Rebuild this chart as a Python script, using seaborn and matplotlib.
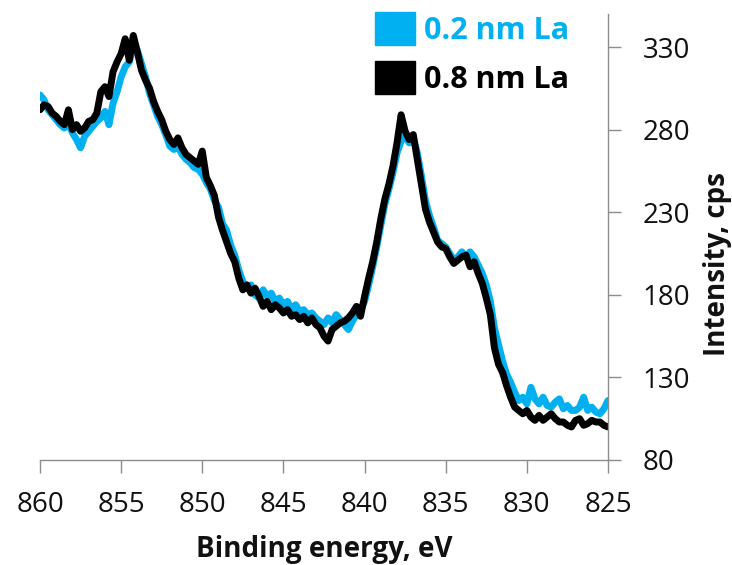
import numpy as np
import pandas as pd
import matplotlib
matplotlib.use("Agg")
import matplotlib.pyplot as plt
from matplotlib.patches import Patch
import seaborn as sns

# Binding energy grid (eV), 0.25 eV steps from 860 down to 825
energy = np.arange(860.0, 824.99, -0.25)

series_names = ["0.2 nm La", "0.8 nm La"]
series_colors = ["#00B0F0", "#000000"]

intensity_02 = [
    301, 298, 292, 289, 286, 283, 281, 284, 278, 274,
    269, 276, 279, 282, 285, 287, 291, 283, 296, 303,
    312, 318, 321, 330, 328, 320, 312, 302, 295, 288,
    283, 277, 270, 268, 270, 265, 262, 260, 257, 256,
    253, 248, 244, 237, 233, 223, 219, 210, 204, 195,
    188, 184, 186, 180, 178, 183, 179, 181, 176, 178,
    174, 176, 171, 174, 170, 171, 168, 169, 166, 164,
    162, 166, 163, 168, 165, 162, 159, 164, 168, 171,
    176, 186, 197, 209, 222, 235, 244, 254, 266, 273,
    276, 272, 275, 266, 252, 237, 228, 221, 213, 211,
    209, 205, 201, 203, 206, 203, 206, 203, 198, 193,
    186, 176, 160, 150, 140, 132, 127, 121, 116, 118,
    114, 124, 117, 114, 118, 113, 112, 115, 117, 111,
    113, 110, 110, 112, 118, 110, 112, 109, 108, 111,
    116,
]

intensity_08 = [
    292, 295, 294, 290, 288, 285, 283, 292, 280, 283,
    279, 281, 285, 286, 290, 303, 306, 300, 315, 321,
    326, 335, 322, 337, 327, 316, 310, 305, 297, 291,
    286, 279, 274, 271, 275, 269, 265, 263, 261, 259,
    267, 251, 246, 240, 227, 219, 212, 205, 200, 190,
    183, 186, 181, 184, 179, 173, 176, 171, 174, 172,
    169, 171, 167, 168, 165, 167, 163, 166, 162, 160,
    155, 152, 159, 161, 163, 164, 166, 169, 173, 167,
    179, 190, 200, 212, 226, 238, 247, 258, 272, 289,
    279, 274, 277, 262, 247, 232, 224, 218, 212, 209,
    208, 203, 199, 201, 203, 204, 197, 200, 193, 187,
    178, 168, 148, 138, 133, 125, 118, 112, 110, 108,
    110, 106, 104, 107, 104, 106, 108, 105, 103, 103,
    101, 100, 104, 105, 101, 102, 104, 103, 103, 101,
    100,
]

x_ticks = [860, 855, 850, 845, 840, 835, 830, 825]
y_ticks = [80, 130, 180, 230, 280, 330]

assert len(energy) == len(intensity_02) == len(intensity_08)

df = pd.concat([
    pd.DataFrame({"energy": energy, "intensity": intensity_02, "series": series_names[0]}),
    pd.DataFrame({"energy": energy, "intensity": intensity_08, "series": series_names[1]}),
], ignore_index=True)

sns.set_theme(style="white")
plt.rcParams["font.family"] = ["Open Sans", "DejaVu Sans"]

fig = plt.figure(figsize=(7.32, 5.65), dpi=100)
ax = fig.add_axes([40 / 732, 1 - 460 / 565, 568 / 732, 446 / 565])

sns.lineplot(data=df, x="energy", y="intensity", hue="series",
             palette=dict(zip(series_names, series_colors)),
             hue_order=series_names, sort=False, estimator=None,
             linewidth=5, legend=False, ax=ax)

ax.set_xlim(860, 825)
ax.set_ylim(80, 350)
ax.set_xticks(x_ticks)
ax.set_yticks(y_ticks)
ax.set_xticklabels([str(v) for v in x_ticks])
ax.set_yticklabels([str(v) for v in y_ticks])

spine_col = "#8C8C8C"
for s in ["top", "left"]:
    ax.spines[s].set_visible(False)
for s in ["bottom", "right"]:
    ax.spines[s].set_visible(True)
    ax.spines[s].set_color(spine_col)
    ax.spines[s].set_linewidth(1.0)

ax.yaxis.tick_right()
ax.yaxis.set_label_position("right")
ax.tick_params(axis="x", direction="out", length=9, width=1.0, color=spine_col,
               pad=13, labelsize=20, labelcolor="#111111", bottom=True)
ax.tick_params(axis="y", direction="out", length=9, width=1.0, color=spine_col,
               pad=16, labelsize=20, labelcolor="#111111", right=True, left=False)
ax.grid(False)

ax.set_xlabel("Binding energy, eV", fontsize=20, fontweight="bold", color="#111111", labelpad=12)
ax.set_ylabel("Intensity, cps", fontsize=20, fontweight="bold", color="#111111")
ax.yaxis.set_label_coords(1.168, 0.44)

handles = [Patch(facecolor=c, edgecolor=c) for c in series_colors]
leg = fig.legend(handles, series_names, loc="upper left",
                 bbox_to_anchor=(375 / 732, 1 - 12 / 565),
                 frameon=False, borderpad=0, borderaxespad=0,
                 handlelength=1.3, handleheight=1.3, handletextpad=0.3,
                 labelspacing=0.5, prop={"size": 22, "weight": "bold"})
for t, c in zip(leg.get_texts(), series_colors):
    t.set_color(c)

fig.savefig("out.png", dpi=100)
